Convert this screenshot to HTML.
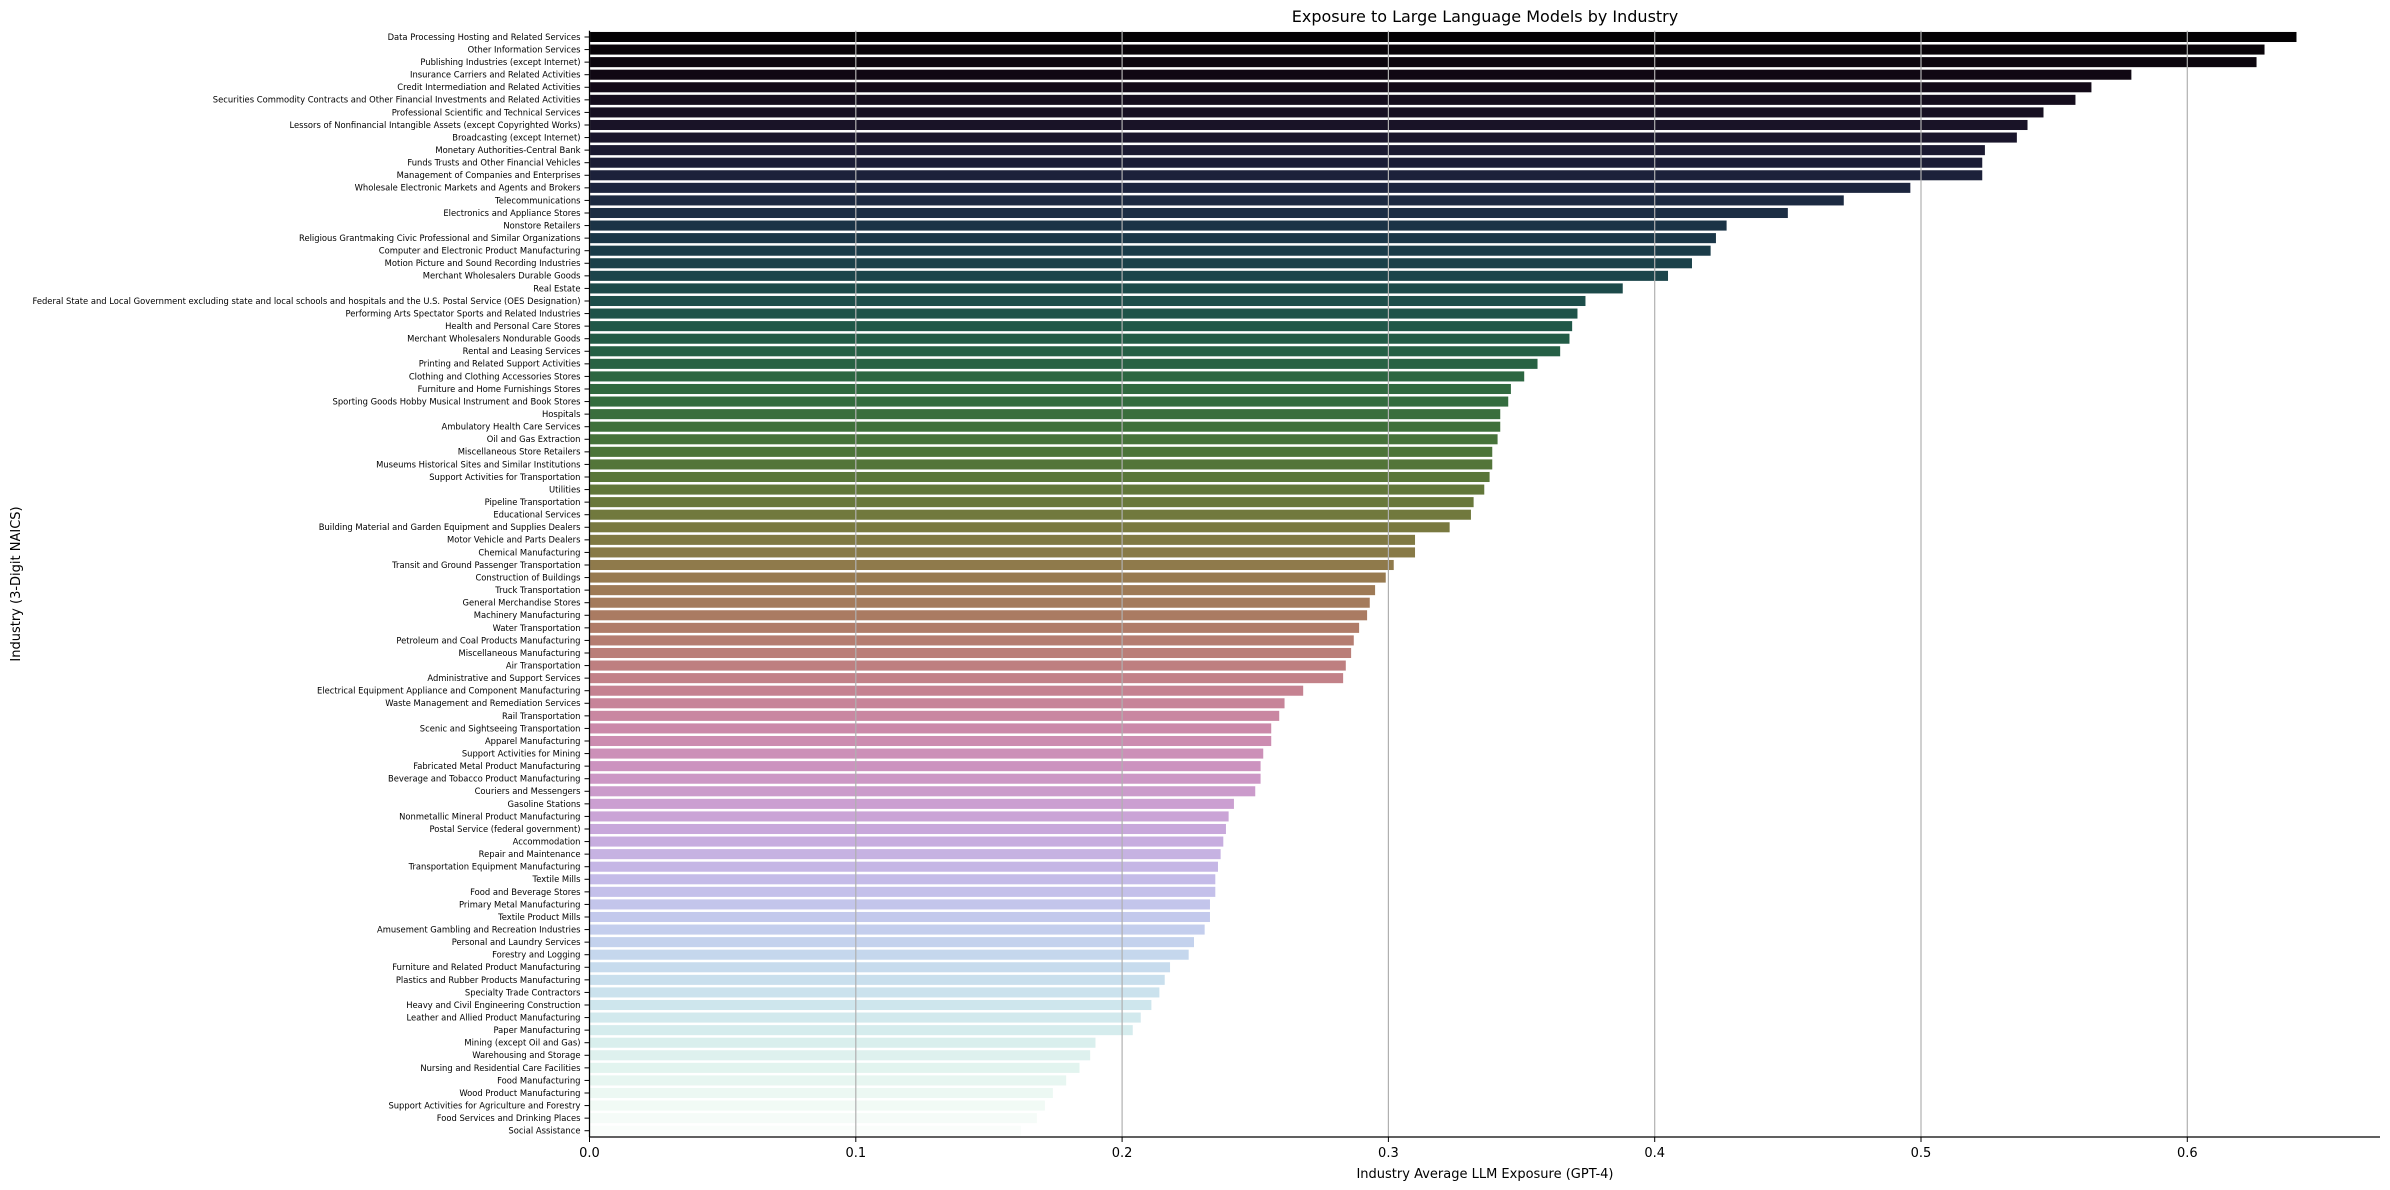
<!DOCTYPE html>
<html><head><meta charset="utf-8"><style>
html,body{margin:0;padding:0;background:#fff;}
svg{display:block;font-family:"DejaVu Sans","Liberation Sans",sans-serif;}
</style></head><body>
<svg id="chart" width="2390" height="1190" viewBox="0 0 2390 1190">
<g id="bars"></g>
<g id="grid"></g>
<g id="yaxis"></g>
<g id="xaxis"></g>
<text x="1485" y="22" font-size="16" text-anchor="middle" fill="#000">Exposure to Large Language Models by Industry</text>
<text x="1485" y="1178" font-size="13" text-anchor="middle" fill="#000">Industry Average LLM Exposure (GPT-4)</text>
<text x="0" y="0" font-size="13" text-anchor="middle" fill="#000" transform="translate(20,584) rotate(-90)">Industry (3-Digit NAICS)</text>
</svg>
<script>
const categories = ["Data Processing Hosting and Related Services","Other Information Services","Publishing Industries (except Internet)","Insurance Carriers and Related Activities","Credit Intermediation and Related Activities","Securities Commodity Contracts and Other Financial Investments and Related Activities","Professional Scientific and Technical Services","Lessors of Nonfinancial Intangible Assets (except Copyrighted Works)","Broadcasting (except Internet)","Monetary Authorities-Central Bank","Funds Trusts and Other Financial Vehicles","Management of Companies and Enterprises","Wholesale Electronic Markets and Agents and Brokers","Telecommunications","Electronics and Appliance Stores","Nonstore Retailers","Religious Grantmaking Civic Professional and Similar Organizations","Computer and Electronic Product Manufacturing","Motion Picture and Sound Recording Industries","Merchant Wholesalers Durable Goods","Real Estate","Federal State and Local Government excluding state and local schools and hospitals and the U.S. Postal Service (OES Designation)","Performing Arts Spectator Sports and Related Industries","Health and Personal Care Stores","Merchant Wholesalers Nondurable Goods","Rental and Leasing Services","Printing and Related Support Activities","Clothing and Clothing Accessories Stores","Furniture and Home Furnishings Stores","Sporting Goods Hobby Musical Instrument and Book Stores","Hospitals","Ambulatory Health Care Services","Oil and Gas Extraction","Miscellaneous Store Retailers","Museums Historical Sites and Similar Institutions","Support Activities for Transportation","Utilities","Pipeline Transportation","Educational Services","Building Material and Garden Equipment and Supplies Dealers","Motor Vehicle and Parts Dealers","Chemical Manufacturing","Transit and Ground Passenger Transportation","Construction of Buildings","Truck Transportation","General Merchandise Stores","Machinery Manufacturing","Water Transportation","Petroleum and Coal Products Manufacturing","Miscellaneous Manufacturing","Air Transportation","Administrative and Support Services","Electrical Equipment Appliance and Component Manufacturing","Waste Management and Remediation Services","Rail Transportation","Scenic and Sightseeing Transportation","Apparel Manufacturing","Support Activities for Mining","Fabricated Metal Product Manufacturing","Beverage and Tobacco Product Manufacturing","Couriers and Messengers","Gasoline Stations","Nonmetallic Mineral Product Manufacturing","Postal Service (federal government)","Accommodation","Repair and Maintenance","Transportation Equipment Manufacturing","Textile Mills","Food and Beverage Stores","Primary Metal Manufacturing","Textile Product Mills","Amusement Gambling and Recreation Industries","Personal and Laundry Services","Forestry and Logging","Furniture and Related Product Manufacturing","Plastics and Rubber Products Manufacturing","Specialty Trade Contractors","Heavy and Civil Engineering Construction","Leather and Allied Product Manufacturing","Paper Manufacturing","Mining (except Oil and Gas)","Warehousing and Storage","Nursing and Residential Care Facilities","Food Manufacturing","Wood Product Manufacturing","Support Activities for Agriculture and Forestry","Food Services and Drinking Places","Social Assistance"];
const exposure = [0.641,0.629,0.626,0.579,0.564,0.558,0.546,0.540,0.536,0.524,0.523,0.523,0.496,0.471,0.450,0.427,0.423,0.421,0.414,0.405,0.388,0.374,0.371,0.369,0.368,0.3645,0.356,0.351,0.346,0.345,0.342,0.342,0.341,0.339,0.339,0.338,0.336,0.332,0.331,0.323,0.310,0.310,0.302,0.299,0.295,0.293,0.292,0.289,0.287,0.286,0.284,0.283,0.268,0.261,0.259,0.256,0.256,0.253,0.252,0.252,0.250,0.242,0.240,0.239,0.238,0.237,0.236,0.235,0.235,0.233,0.233,0.231,0.227,0.225,0.218,0.216,0.214,0.211,0.207,0.204,0.190,0.188,0.184,0.179,0.174,0.171,0.168,0.162];
const xTicks = [0,0.1,0.2,0.3,0.4,0.5,0.6];
const xTickLabels = ["0.0","0.1","0.2","0.3","0.4","0.5","0.6"];

const NS="http://www.w3.org/2000/svg";
const X0=589.5, XR=2380, K=2663;
const TOP=30.7, BOT=1137;
const n=categories.length;
const step=(BOT-TOP)/n;
function xs(v){return X0+v*K;}
function yc(i){return TOP+step*(i+0.5);}
function cubehelix(x){
  const a=0.82*x*(1-x)/2, phi=2*Math.PI*(0.5/3 - 1.5*x);
  const c=Math.cos(phi), s=Math.sin(phi);
  const r=x+a*(-0.14861*c+1.78277*s), g=x+a*(-0.29227*c-0.90649*s), b=x+a*(1.97294*c);
  const f=t=>Math.round(Math.max(0,Math.min(1,t))*255);
  return `rgb(${f(r)},${f(g)},${f(b)})`;
}
function mk(tag,attrs,parent){const e=document.createElementNS(NS,tag);for(const k in attrs)e.setAttribute(k,attrs[k]);parent.appendChild(e);return e;}
const gB=document.getElementById('bars'),gG=document.getElementById('grid'),gY=document.getElementById('yaxis'),gX=document.getElementById('xaxis');
for(let i=0;i<n;i++){
  const t=(i+1)/(n+1);
  const r=mk('rect',{x:X0,y:yc(i)-step*0.4,width:Math.max(0,xs(exposure[i])-X0),height:step*0.8,fill:cubehelix(t)},gB);
  
  
  const tk=mk('line',{x1:X0-5,x2:X0,y1:yc(i),y2:yc(i),stroke:'#000','stroke-width':1},gY);
  
  
  const tx=mk('text',{x:X0-9,y:yc(i)+2.9,'font-size':8.4,'text-anchor':'end',fill:'#000'},gY);
  tx.textContent=categories[i];
  
  
}
xTicks.forEach((v,j)=>{
  const gl=mk('line',{x1:xs(v),x2:xs(v),y1:TOP,y2:BOT,stroke:'#b0b0b0','stroke-width':1.2},gG);
  
  
  const tk=mk('line',{x1:xs(v),x2:xs(v),y1:BOT,y2:BOT+5,stroke:'#000','stroke-width':1},gX);
  
  
  const tl=mk('text',{x:xs(v),y:BOT+20,'font-size':13,'text-anchor':'middle',fill:'#000'},gX);
  tl.textContent=xTickLabels[j];
  
  
});
const ls=mk('line',{x1:X0,x2:X0,y1:TOP,y2:BOT,stroke:'#000','stroke-width':1.2},gY);


const bs=mk('line',{x1:X0,x2:XR,y1:BOT,y2:BOT,stroke:'#000','stroke-width':1.2},gX);


</script>
</body></html>
